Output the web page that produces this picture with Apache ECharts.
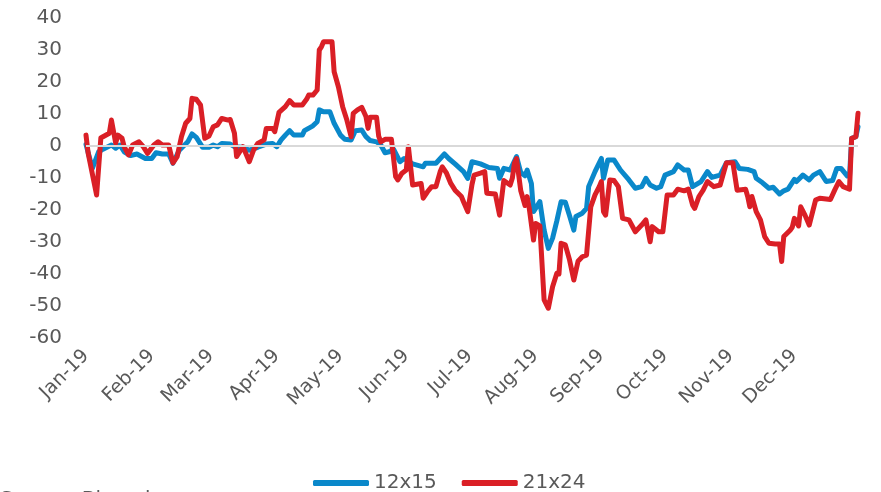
<!DOCTYPE html>
<html lang="en">
<head>
    <meta charset="UTF-8">
    <title>12x15 vs 21x24</title>
    <script src="https://cdn.jsdelivr.net/npm/echarts@6/dist/echarts.min.js"></script>
</head>
<body style="margin:0;background:#fff">
    <div id="main" style="width:881px;height:492px;"></div>
    <script type="text/javascript">
        // day of year 2019 (0 = 1 Jan) and value
        var blueDays = [0, 3, 6, 8, 12, 14, 16, 18, 21, 24, 28, 31, 33, 36, 39, 41, 44, 48, 50, 52,
            55, 58, 60, 62, 64, 68, 70, 74, 77, 81, 85, 88, 90, 92, 94, 96, 98, 102, 103, 107,
            109, 110, 112, 115, 117, 120, 122, 125, 127, 130, 132, 134, 137, 139, 141, 143, 145, 148, 150, 154,
            159, 160, 165, 169, 171, 174, 178, 180, 182, 186, 190, 194, 195, 197, 200, 203, 205, 207, 208, 210,
            211, 214, 216, 218, 220, 222, 224, 226, 228, 230, 231, 234, 236, 237, 240, 243, 244, 246, 249, 252,
            256, 259, 262, 264, 266, 269, 271, 273, 277, 279, 282, 284, 286, 290, 293, 295, 299, 302, 306, 308,
            312, 315, 316, 319, 322, 324, 327, 329, 331, 334, 335, 338, 341, 343, 346, 349, 352, 354, 356, 359,
            360, 361, 363, 364];
        var blueVals = [0.5, -7, -1.8, -1, 0.3, -0.7, 0.3, -1.8, -3, -2.5, -3.9, -3.9, -2.1, -2.5, -2.5, -5.4, -1.3, 1.3, 3.8, 2.7,
            -0.4, -0.4, 0.3, -0.2, 0.8, 0.6, -0.2, -0.4, -1.3, -0.4, 0.6, 0.8, -0.2, 1.9, 3.4, 4.8, 3.4, 3.4, 4.8, 6.3,
            7.6, 11.3, 10.7, 10.7, 7.1, 3.4, 2.1, 1.9, 4.8, 5, 2.9, 1.7, 1.3, 0.3, -2.1, -1.8, -1, -4.9, -3.9, -5.6,
            -6.5, -5.4, -5.4, -2.5, -3.9, -5.6, -8, -10.1, -4.9, -5.6, -6.7, -7, -10.1, -7, -7.5, -3.3, -8.3, -9.3, -7.5, -11.7,
            -20.5, -17.4, -26.3, -32, -28.8, -23.4, -17.4, -17.6, -21.8, -26.3, -22, -21, -19.5, -12.7, -8, -3.9, -10.1, -4.4, -4.4, -7.5,
            -10.6, -13.2, -12.7, -10.1, -12.2, -13.2, -12.7, -9.1, -8, -5.9, -7.5, -7.5, -12.7, -11.1, -8, -9.8, -9.1, -5.2, -4.9, -7,
            -7.3, -8, -10.1, -11.5, -13.2, -12.9, -15, -14, -13.5, -10.4, -11.1, -9.1, -10.6, -9.1, -8, -11.1, -10.8, -7, -7, -9.4,
            -9.4, 2.4, 2.9, 6];

        var redDays = [0, 1, 5, 7, 8, 11, 12, 14, 15, 17, 18, 20, 22, 25, 27, 29, 32, 34, 36, 39,
            41, 43, 45, 47, 49, 50, 52, 54, 56, 58, 60, 62, 64, 67, 68, 70, 71, 74, 77, 79,
            81, 84, 85, 88, 89, 91, 94, 96, 98, 102, 104, 105, 107, 109, 110, 111, 112, 116, 117, 119,
            121, 123, 125, 126, 128, 130, 132, 133, 134, 137, 138, 139, 141, 144, 146, 147, 149, 151, 152, 154,
            158, 159, 161, 163, 165, 167, 168, 170, 172, 174, 177, 178, 180, 182, 183, 186, 188, 189, 193, 195,
            197, 200, 201, 202, 203, 205, 207, 208, 209, 211, 212, 214, 216, 218, 220, 222, 223, 224, 226, 228,
            230, 232, 234, 236, 238, 240, 242, 243, 244, 245, 247, 249, 251, 253, 256, 259, 262, 264, 266, 267,
            270, 272, 274, 277, 279, 282, 284, 286, 287, 289, 291, 293, 296, 299, 301, 302, 305, 307, 311, 312,
            313, 314, 316, 318, 320, 322, 325, 327, 328, 329, 332, 333, 334, 336, 337, 339, 341, 344, 346, 351,
            353, 355, 357, 360, 361, 363, 364];
        var redVals = [3.4, -2.2, -15.3, 2.5, 2.9, 4, 8.1, 0.9, 3.4, 2.4, -0.2, -2.8, 0.3, 1.3, -0.2, -2.3, 0.3, 1.3, 0.3, 0.3,
            -5.3, -3.3, 2.9, 7.1, 8.6, 14.9, 14.6, 12.8, 2.4, 3.1, 6, 6.6, 8.6, 8.1, 8.3, 4, -3.3, -0.2, -4.9, -1.3,
            0.8, 1.9, 5.5, 5.5, 4.5, 10.5, 12.3, 14.2, 12.8, 12.8, 14.6, 15.9, 15.9, 17.5, 30, 31, 32.6, 32.6, 23.2, 18.5,
            12.3, 8.1, 2.9, 10.2, 11.3, 12.1, 9.2, 5.5, 9, 9, 3.1, 1.3, 2.1, 2.1, -9.6, -10.6, -8.5, -7.5, -0.2, -12.2,
            -11.7, -16.3, -14.3, -12.7, -12.7, -8, -6.5, -8.5, -11.7, -13.8, -15.8, -17.4, -20.5, -12, -9.1, -8.5, -8, -14.8, -15, -21.6,
            -10.8, -12.2, -10.1, -5.4, -3.9, -14, -18.6, -15.8, -19.5, -29.4, -24.2, -25, -48.1, -50.7, -44, -39.8, -40, -30.4, -30.9, -35.6,
            -41.9, -36, -34.6, -34.1, -19, -15.3, -12.7, -11.1, -20.5, -21.6, -10.6, -10.8, -12.7, -22.6, -23.1, -26.8, -24.7, -23.1, -29.9, -25.2,
            -26.8, -26.8, -15.3, -15.3, -13.5, -14, -13.5, -18.4, -19.5, -15.8, -13.8, -11.1, -12.7, -12.2, -7.5, -5.2, -5.2, -13.8, -13.5, -15.8,
            -19, -15.8, -20.5, -23.1, -28.3, -30.4, -30.6, -30.6, -36.1, -28.3, -26.3, -25.4, -22.6, -25, -19, -21.6, -24.7, -16.9, -16.3, -16.7,
            -13.8, -11.1, -12.7, -13.5, 2.4, 2.9, 10.2];

        var seriesNames = ['12x15', '21x24'];
        var seriesColors = ['#0a88ca', '#da1f26'];
        var yTicks = { min: -60, max: 40, step: 10 };

        var DAY = 86400000;
        var start = Date.UTC(2019, 0, 1);
        function toPairs(days, vals) {
            var res = [];
            for (var i = 0; i < days.length; i++) {
                res.push([start + days[i] * DAY, vals[i]]);
            }
            return res;
        }

        var txt = '#595959';
        var font = 'DejaVu Sans';

        var myChart = echarts.init(document.getElementById('main'));
        var option = {
            backgroundColor: '#ffffff',
            animation: false,
            textStyle: { fontFamily: font },
            grid: { left: 86, right: 23, top: 18, bottom: 154 },
            legend: {
                data: seriesNames,
                left: 308,
                top: 468,
                icon: 'roundRect',
                itemWidth: 56,
                itemHeight: 6,
                itemGap: 25,
                textStyle: { color: txt, fontSize: 20, fontFamily: font }
            },
            graphic: [{
                type: 'text',
                left: 0,
                top: 490,
                style: { text: 'Source: Bloomberg', fill: txt, font: '20px "DejaVu Sans"' }
            }],
            xAxis: {
                type: 'time',
                min: start,
                max: start + 364 * DAY,
                splitNumber: 12,
                axisLine: { show: false },
                axisTick: { show: false },
                splitLine: { show: false },
                axisLabel: {
                    rotate: 45,
                    margin: 15,
                    color: txt,
                    fontSize: 19,
                    fontFamily: font,
                    formatter: '{MMM}-{yy}',
                    hideOverlap: false
                }
            },
            yAxis: {
                type: 'value',
                min: yTicks.min,
                max: yTicks.max,
                interval: yTicks.step,
                axisLine: { show: false },
                axisTick: { show: false },
                splitLine: { show: false },
                axisLabel: { color: txt, fontSize: 20, fontFamily: font, margin: 24 }
            },
            series: [{
                name: seriesNames[0],
                type: 'line',
                data: toPairs(blueDays, blueVals),
                showSymbol: false,
                color: seriesColors[0],
                lineStyle: { width: 5, color: seriesColors[0], join: 'round', cap: 'round' },
                markLine: {
                    silent: true,
                    symbol: 'none',
                    label: { show: false },
                    lineStyle: { color: '#d9d9d9', width: 2, type: 'solid' },
                    data: [{ yAxis: 0 }]
                },
                z: 2
            }, {
                name: seriesNames[1],
                type: 'line',
                data: toPairs(redDays, redVals),
                showSymbol: false,
                color: seriesColors[1],
                lineStyle: { width: 5, color: seriesColors[1], join: 'round', cap: 'round' },
                z: 3
            }]
        };
        myChart.setOption(option);
    </script>
</body>
</html>
